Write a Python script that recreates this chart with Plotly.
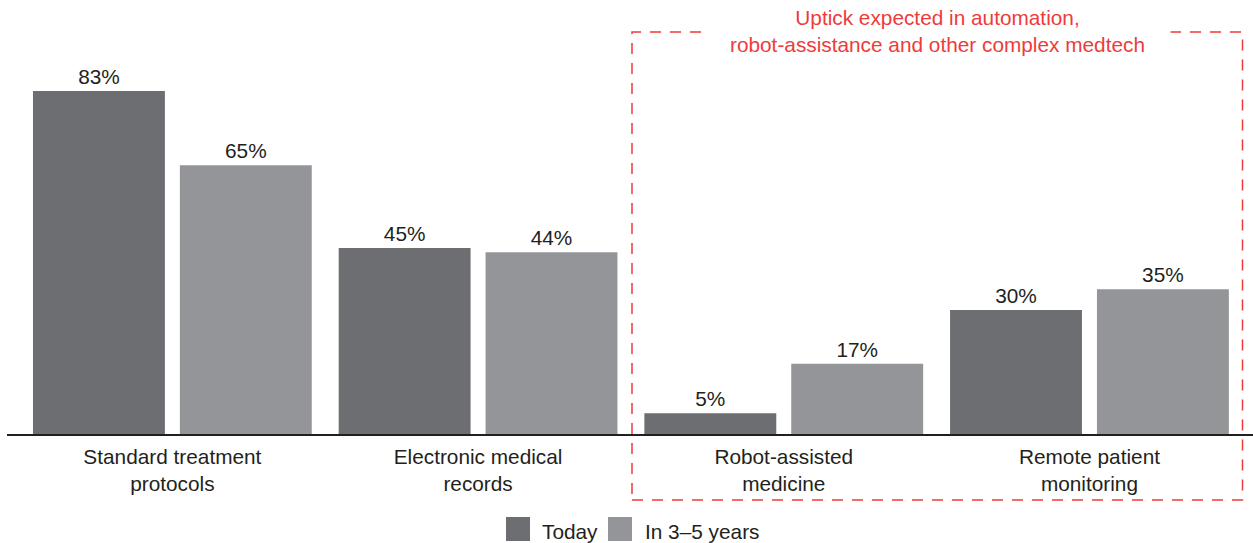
import plotly.graph_objects as go

# Survey shares by technology, today vs. expected in 3-5 years
categories = ["Standard treatment<br>protocols", "Electronic medical<br>records",
              "Robot-assisted<br>medicine", "Remote patient<br>monitoring"]
series_names = ["Today", "In 3–5 years"]
today = [83, 45, 5, 30]
future = [65, 44, 17, 35]
series_colors = ["#6d6e72", "#939598"]

FONT = "Liberation Sans, Arial, Helvetica, sans-serif"
TEXT = "#231f20"
RED = "#ee3b3b"
FS = 20.8

fig = go.Figure()
for name, vals, col in zip(series_names, [today, future], series_colors):
    fig.add_trace(go.Bar(
        x=list(range(len(categories))), y=vals, name=name,
        marker=dict(color=col, line=dict(width=0)),
        text=[f"{v}%" for v in vals], textposition="outside",
        textfont=dict(family=FONT, size=FS, color=TEXT),
        cliponaxis=False, showlegend=False,
    ))

fig.update_layout(
    width=1253, height=543, autosize=False,
    margin=dict(l=7, r=0, t=0, b=109),
    paper_bgcolor="white", plot_bgcolor="white",
    barmode="group", bargap=0.039, bargroupgap=0.102,
    font=dict(family=FONT, size=FS, color=TEXT),
    xaxis=dict(
        range=[-0.541, 3.535], tickmode="array",
        tickvals=list(range(len(categories))), ticktext=categories,
        showgrid=False, zeroline=False, showline=True,
        linecolor="#231f20", linewidth=2, ticks="",
        ticklabelstandoff=3,
        tickfont=dict(family=FONT, size=FS, color=TEXT),
    ),
    yaxis=dict(range=[0, 105], visible=False, fixedrange=True),
)

# Dashed box highlighting the medtech categories
fig.add_shape(type="rect", xref="paper", yref="paper",
              x0=(632 - 7) / 1246, x1=(1242.5 - 7) / 1246,
              y0=(434 - 500) / 434, y1=(434 - 32) / 434,
              line=dict(color=RED, width=1.5, dash="11px,9px"),
              fillcolor="rgba(0,0,0,0)", layer="above")
fig.add_annotation(xref="paper", yref="paper", x=0.7464, y=(434 - 31) / 434,
                   text="Uptick expected in automation,<br>robot-assistance and other complex medtech",
                   showarrow=False, xanchor="center", yanchor="middle",
                   font=dict(family=FONT, size=FS, color=RED),
                   bgcolor="white", borderpad=0, width=465)

# Legend drawn as swatches + labels below the axis
legend_items = [(506, 540), (608, 643)]
for (sx, tx), name, col in zip(legend_items, series_names, series_colors):
    fig.add_shape(type="rect", xref="paper", yref="paper",
                  x0=(sx - 7) / 1246, x1=(sx + 24 - 7) / 1246,
                  y0=(434 - 541) / 434, y1=(434 - 517) / 434,
                  fillcolor=col, line=dict(width=0))
    fig.add_annotation(xref="paper", yref="paper", x=(tx - 7) / 1246, y=(434 - 531) / 434,
                       text=name, showarrow=False, xanchor="left", yanchor="middle",
                       font=dict(family=FONT, size=FS, color=TEXT))

fig.write_html("out.html")
